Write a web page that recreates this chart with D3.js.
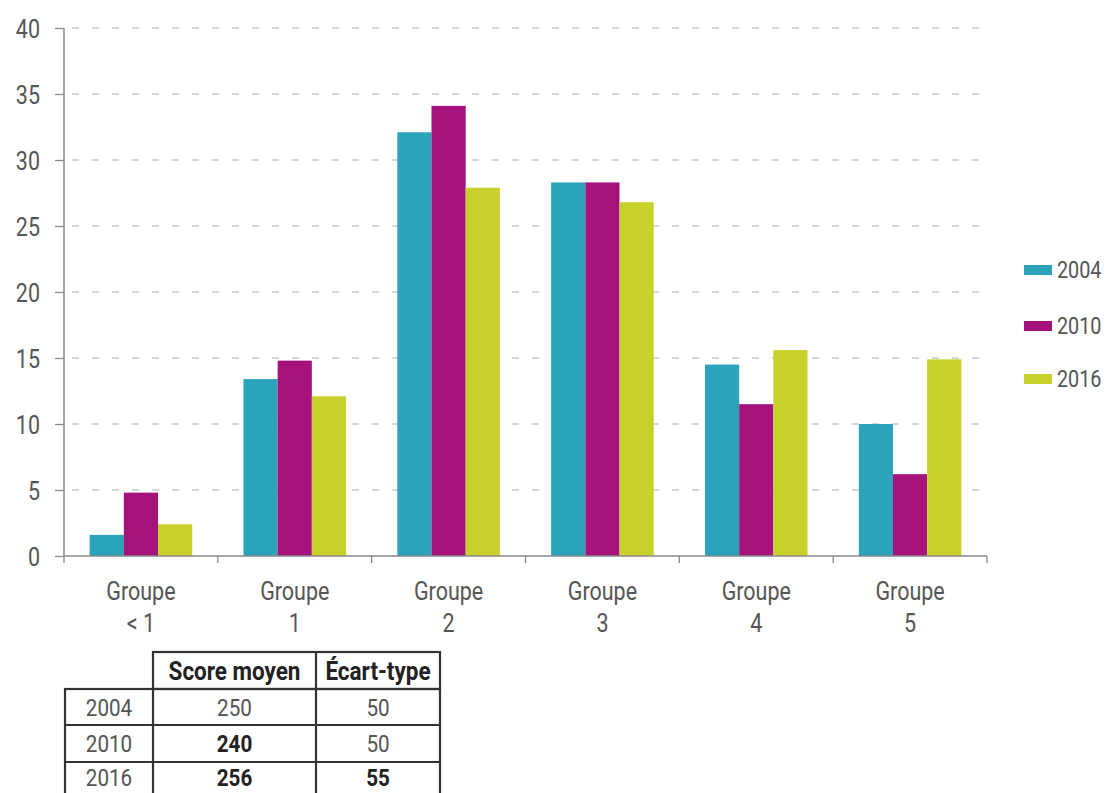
<!DOCTYPE html>
<html>
<head>
<meta charset="utf-8">
<script src="https://cdn.jsdelivr.net/npm/d3@7"></script>
<style>
  html, body { margin: 0; padding: 0; background: #fff; }
  svg { display: block; font-family: Roboto, "Liberation Sans", sans-serif; }
</style>
</head>
<body>
<svg id="chart" width="1109" height="793"></svg>
<script>
// Groups on the x axis (two-line labels)
const categories = ["Groupe\n< 1", "Groupe\n1", "Groupe\n2", "Groupe\n3", "Groupe\n4", "Groupe\n5"];
const years = ["2004", "2010", "2016"];
const values2004 = [1.6, 13.4, 32.1, 28.3, 14.5, 10.0];
const values2010 = [4.8, 14.8, 34.1, 28.3, 11.5, 6.2];
const values2016 = [2.4, 12.1, 27.9, 26.8, 15.6, 14.9];
const yTicks = [0, 5, 10, 15, 20, 25, 30, 35, 40];
const colors = ["#2aa3bb", "#a5127c", "#c8d02b"];

// Summary table
const tableHeader = ["Score moyen", "Écart-type"];
const tableYears = ["2004", "2010", "2016"];
const scoreMoyen = ["250", "240", "256"];
const ecartType = ["50", "50", "55"];
const scoreBold = [false, true, true];
const ecartBold = [false, false, true];

const seriesValues = [values2004, values2010, values2016];

const svg = d3.select("#chart");
const plotLeft = 64, plotRight = 987, plotTop = 28, plotBottom = 556;
const SX = 0.86; // horizontal squeeze for a condensed look
const textGrey = "#555";

// places a condensed text item anchored at (x, y)
function narrowText(parent, x, y, str, opts = {}) {
  const sx = opts.sx || SX;
  return parent.append("text")
    .attr("transform", `translate(${x},${y}) scale(${sx},1)`)
    .attr("text-anchor", opts.anchor || "middle")
    .attr("fill", opts.fill || textGrey)
    .attr("font-weight", opts.bold ? "bold" : "normal")
    .style("font-size", (opts.size || 24) + "px")
    .text(str);
}

const y = d3.scaleLinear().domain([0, 40]).range([plotBottom, plotTop]);
const x0 = d3.scaleBand().domain(categories).range([plotLeft, plotRight]).padding(0);
const x1 = d3.scaleBand().domain(years).range([0, x0.bandwidth()]).paddingInner(0).paddingOuter(0.75);

// dashed horizontal gridlines
svg.append("g").selectAll("line")
  .data(yTicks.filter(t => t > 0))
  .join("line")
  .attr("x1", plotLeft + 8).attr("x2", plotRight)
  .attr("y1", d => y(d)).attr("y2", d => y(d))
  .attr("stroke", "#cacaca").attr("stroke-width", 1.3)
  .attr("stroke-dasharray", "7,13");

// bars
const groups = svg.append("g").selectAll("g")
  .data(categories)
  .join("g")
  .attr("transform", d => `translate(${x0(d)},0)`);

groups.selectAll("rect")
  .data((d, i) => years.map((yr, k) => ({ yr, v: seriesValues[k][i], k })))
  .join("rect")
  .attr("x", d => x1(d.yr))
  .attr("width", x1.bandwidth())
  .attr("y", d => y(d.v))
  .attr("height", d => y(0) - y(d.v))
  .attr("fill", d => colors[d.k]);

// y axis
const yAxis = d3.axisLeft(y).tickValues(yTicks).tickSize(9).tickPadding(15);
const yg = svg.append("g").attr("transform", `translate(${plotLeft},0)`).call(yAxis);
yg.select(".domain").attr("stroke", "#8a8a8a").attr("stroke-width", 1.5).attr("d", `M0,${plotTop}V${plotBottom}`);
yg.selectAll(".tick line").attr("stroke", "#8a8a8a").attr("stroke-width", 1.3);
yg.selectAll(".tick text")
  .attr("fill", textGrey)
  .attr("x", -24 / SX)
  .attr("dy", "0.36em")
  .attr("transform", `scale(${SX},1)`)
  .style("font-size", "25px")
  .style("font-family", "Roboto, sans-serif");

// x axis line with ticks at group boundaries
const xg = svg.append("g");
xg.append("line").attr("x1", plotLeft).attr("x2", plotRight).attr("y1", plotBottom).attr("y2", plotBottom)
  .attr("stroke", "#8a8a8a").attr("stroke-width", 1.5);
const boundaries = categories.map(c => x0(c)).concat([x0.range()[1]]);
xg.selectAll("line.tk").data(boundaries).join("line").attr("class", "tk")
  .attr("x1", d => d).attr("x2", d => d)
  .attr("y1", plotBottom).attr("y2", plotBottom + 7)
  .attr("stroke", "#8a8a8a").attr("stroke-width", 1.3);

// category labels (two lines each)
categories.forEach(c => {
  const t = narrowText(xg, x0(c) + x0.bandwidth() / 2, 600, null, { size: 25 });
  c.split("\n").forEach((line, i) => {
    t.append("tspan").attr("x", 0).attr("dy", i === 0 ? 0 : 32).text(line);
  });
});

// legend
const legend = svg.append("g");
const legY = [270, 326, 379];
years.forEach((yr, k) => {
  legend.append("rect").attr("x", 1024).attr("y", legY[k] - 5).attr("width", 28).attr("height", 10).attr("fill", colors[k]);
  narrowText(legend, 1057, legY[k] + 8, yr, { anchor: "start", size: 23 });
});

// summary table
const tbl = svg.append("g");
const colX = [65, 153, 316, 440];
const rowY = [652, 689, 725, 762, 800];
const border = "#333";
const bw = 2.2;

// header cells
tbl.append("rect").attr("x", colX[1]).attr("y", rowY[0]).attr("width", colX[3] - colX[1]).attr("height", rowY[1] - rowY[0])
  .attr("fill", "none").attr("stroke", border).attr("stroke-width", bw);
tbl.append("line").attr("x1", colX[2]).attr("x2", colX[2]).attr("y1", rowY[0]).attr("y2", rowY[4])
  .attr("stroke", border).attr("stroke-width", bw);
// body
tbl.append("rect").attr("x", colX[0]).attr("y", rowY[1]).attr("width", colX[3] - colX[0]).attr("height", rowY[4] - rowY[1])
  .attr("fill", "none").attr("stroke", border).attr("stroke-width", bw);
tbl.append("line").attr("x1", colX[1]).attr("x2", colX[1]).attr("y1", rowY[1]).attr("y2", rowY[4])
  .attr("stroke", border).attr("stroke-width", bw);
[rowY[2], rowY[3]].forEach(yy => tbl.append("line").attr("x1", colX[0]).attr("x2", colX[3]).attr("y1", yy).attr("y2", yy)
  .attr("stroke", border).attr("stroke-width", bw));

tableHeader.forEach((h, j) => {
  narrowText(tbl, (colX[j + 1] + colX[j + 2]) / 2, 680, h, { bold: true, fill: "#222", size: 25, sx: 0.9 });
});
const rowBase = [716, 752, 786];
tableYears.forEach((yr, i) => {
  narrowText(tbl, (colX[0] + colX[1]) / 2, rowBase[i], yr, { size: 24 });
  narrowText(tbl, (colX[1] + colX[2]) / 2, rowBase[i], scoreMoyen[i],
    { size: 24, bold: scoreBold[i], fill: scoreBold[i] ? "#222" : textGrey });
  narrowText(tbl, (colX[2] + colX[3]) / 2, rowBase[i], ecartType[i],
    { size: 24, bold: ecartBold[i], fill: ecartBold[i] ? "#222" : textGrey });
});
</script>
</body>
</html>
